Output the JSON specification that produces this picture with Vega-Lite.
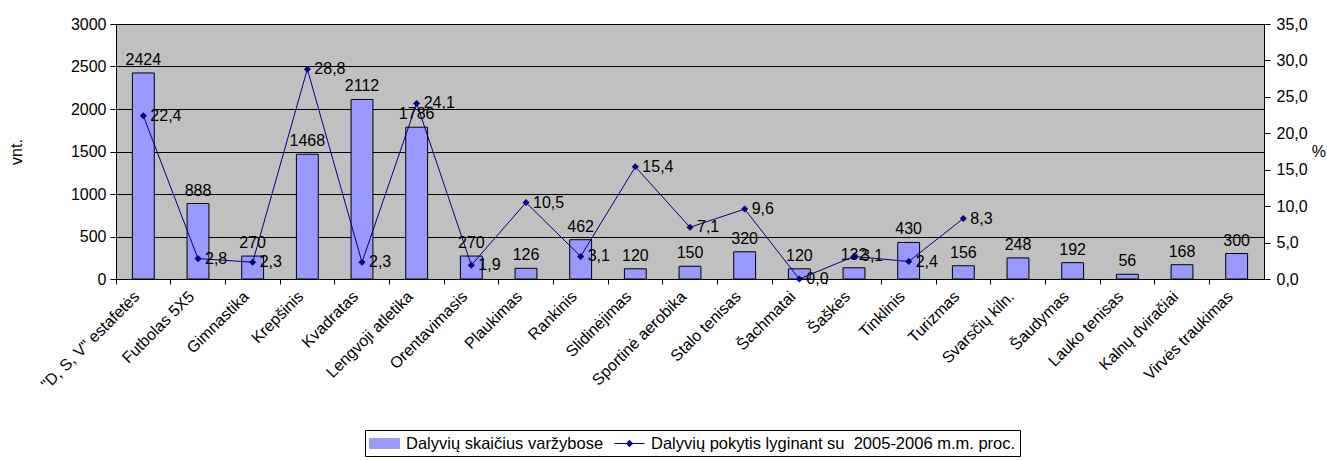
{
  "$schema": "https://vega.github.io/schema/vega-lite/v6.json",
  "width": 1148,
  "height": 255,
  "autosize": {"type": "none"},
  "padding": {"left": 116, "top": 24, "right": 63, "bottom": 181},
  "background": "white",
  "config": {
    "font": "Liberation Sans",
    "view": {"fill": "#C0C0C0", "stroke": "#808080", "strokeWidth": 1},
    "locale": {
      "number": {"decimal": ",", "thousands": "", "grouping": [3], "currency": ["", ""]}
    },
    "axis": {
      "labelFont": "Liberation Sans",
      "titleFont": "Liberation Sans",
      "labelColor": "#000",
      "titleColor": "#000",
      "domainColor": "#000",
      "tickColor": "#000",
      "labelFontSize": 16,
      "titleFontSize": 16,
      "titleFontWeight": "normal"
    },
    "legend": {
      "labelFont": "Liberation Sans",
      "labelFontSize": 16.5,
      "labelColor": "#000",
      "labelLimit": 600
    }
  },
  "data": {
    "values": [
      {"sport": "\"D, S, V\" estafetės", "count": 2424, "pct": 22.4},
      {"sport": "Futbolas 5X5", "count": 888, "pct": 2.8},
      {"sport": "Gimnastika", "count": 270, "pct": 2.3},
      {"sport": "Krepšinis", "count": 1468, "pct": 28.8},
      {"sport": "Kvadratas", "count": 2112, "pct": 2.3},
      {"sport": "Lengvoji atletika", "count": 1786, "pct": 24.1},
      {"sport": "Orentavimasis", "count": 270, "pct": 1.9},
      {"sport": "Plaukimas", "count": 126, "pct": 10.5},
      {"sport": "Rankinis", "count": 462, "pct": 3.1},
      {"sport": "Slidinėjimas", "count": 120, "pct": 15.4},
      {"sport": "Sportinė aerobika", "count": 150, "pct": 7.1},
      {"sport": "Stalo tenisas", "count": 320, "pct": 9.6},
      {"sport": "Šachmatai", "count": 120, "pct": 0.0},
      {"sport": "Šaškės", "count": 132, "pct": 3.1},
      {"sport": "Tinklinis", "count": 430, "pct": 2.4},
      {"sport": "Turizmas", "count": 156, "pct": 8.3},
      {"sport": "Svarsčių kiln.", "count": 248, "pct": null},
      {"sport": "Šaudymas", "count": 192, "pct": null},
      {"sport": "Lauko tenisas", "count": 56, "pct": null},
      {"sport": "Kalnų dviračiai", "count": 168, "pct": null},
      {"sport": "Virvės traukimas", "count": 300, "pct": null}
    ]
  },
  "encoding": {
    "x": {
      "field": "sport",
      "type": "nominal",
      "sort": null,
      "scale": {"paddingInner": 0, "paddingOuter": 0},
      "axis": {
        "title": null,
        "labelAngle": -45,
        "labelAlign": "right",
        "labelBaseline": "top",
        "bandPosition": 0,
        "labelOffset": -12,
        "tickSize": 5,
        "labelPadding": 4,
        "labelFontSize": 16,
        "labelLimit": 300
      }
    }
  },
  "layer": [
    {
      "encoding": {
        "y": {
          "field": "count",
          "type": "quantitative",
          "scale": {"domain": [0, 3000], "nice": false},
          "axis": {
            "title": "vnt.",
            "values": [0, 500, 1000, 1500, 2000, 2500, 3000],
            "format": "d",
            "grid": true,
            "gridColor": "#000",
            "gridOpacity": 1,
            "tickSize": 6,
            "labelPadding": 4,
            "titlePadding": 46
          }
        }
      },
      "layer": [
        {
          "mark": {"type": "bar", "width": {"band": 0.4}, "stroke": "#000000", "strokeWidth": 1},
          "encoding": {
            "color": {
              "datum": "Dalyvių skaičius varžybose",
              "type": "nominal",
              "scale": {
                "domain": ["Dalyvių skaičius varžybose", "Dalyvių pokytis lyginant su \u00a02005-2006 m.m. proc."],
                "range": ["#9999FF", "#000080"]
              },
              "legend": {
                "title": null,
                "orient": "none",
                "legendX": 249,
                "legendY": 406,
                "direction": "horizontal",
                "strokeColor": "#000",
                "padding": 4,
                "symbolOffset": 6,
                "labelOffset": 12,
                "columnPadding": 8,
                "symbolSize": 324,
                "symbolStrokeWidth": 1,
                "symbolOpacity": 1,
                "encode": {
                  "symbols": {
                    "update": {
                      "shape": {"signal": "datum.value === 'Dalyvių skaičius varžybose' ? 'M-1.67,-0.55H1.67V0.55H-1.67Z' : 'M-1.67,0H1.67M0,-0.36L0.36,0L0,0.36L-0.36,0Z'"},
                      "fill": {"signal": "datum.value === 'Dalyvių skaičius varžybose' ? '#9999FF' : '#000080'"},
                      "stroke": {"signal": "datum.value === 'Dalyvių skaičius varžybose' ? '#000000' : '#000080'"},
                      "strokeWidth": {"value": 1},
                      "opacity": {"value": 1}
                    }
                  }
                }
              }
            }
          }
        },
        {
          "mark": {"type": "text", "baseline": "bottom", "dy": -5, "fontSize": 16, "font": "Liberation Sans", "color": "#000"},
          "encoding": {"text": {"field": "count", "type": "quantitative", "format": "d"}}
        }
      ]
    },
    {
      "transform": [{"filter": "isValid(datum.pct)"}],
      "encoding": {
        "y": {
          "field": "pct",
          "type": "quantitative",
          "scale": {"domain": [0, 35], "nice": false},
          "axis": {
            "orient": "right",
            "title": "%",
            "titleAngle": 0,
            "titleBaseline": "middle",
            "titleAlign": "left",
            "titlePadding": 4,
            "values": [0, 5, 10, 15, 20, 25, 30, 35],
            "format": ".1f",
            "grid": false,
            "tickSize": 6,
            "labelPadding": 6
          }
        }
      },
      "layer": [
        {
          "mark": {"type": "line", "strokeWidth": 1, "point": {"shape": "diamond", "size": 50, "filled": true, "color": "#000080"}},
          "encoding": {
            "color": {
              "datum": "Dalyvių pokytis lyginant su \u00a02005-2006 m.m. proc.",
              "type": "nominal",
              "legend": {
                "title": null,
                "orient": "none",
                "legendX": 249,
                "legendY": 406,
                "direction": "horizontal",
                "strokeColor": "#000",
                "padding": 4,
                "symbolOffset": 6,
                "labelOffset": 12,
                "columnPadding": 8,
                "symbolSize": 324,
                "symbolStrokeWidth": 1,
                "symbolOpacity": 1,
                "encode": {
                  "symbols": {
                    "update": {
                      "shape": {"signal": "datum.value === 'Dalyvių skaičius varžybose' ? 'M-1.67,-0.55H1.67V0.55H-1.67Z' : 'M-1.67,0H1.67M0,-0.36L0.36,0L0,0.36L-0.36,0Z'"},
                      "fill": {"signal": "datum.value === 'Dalyvių skaičius varžybose' ? '#9999FF' : '#000080'"},
                      "stroke": {"signal": "datum.value === 'Dalyvių skaičius varžybose' ? '#000000' : '#000080'"},
                      "strokeWidth": {"value": 1},
                      "opacity": {"value": 1}
                    }
                  }
                }
              }
            }
          }
        },
        {
          "mark": {"type": "text", "align": "left", "baseline": "middle", "dx": 7, "fontSize": 16, "font": "Liberation Sans", "color": "#000"},
          "encoding": {"text": {"field": "pct", "type": "quantitative", "format": ".1f"}}
        }
      ]
    }
  ],
  "resolve": {"scale": {"y": "independent"}}
}
